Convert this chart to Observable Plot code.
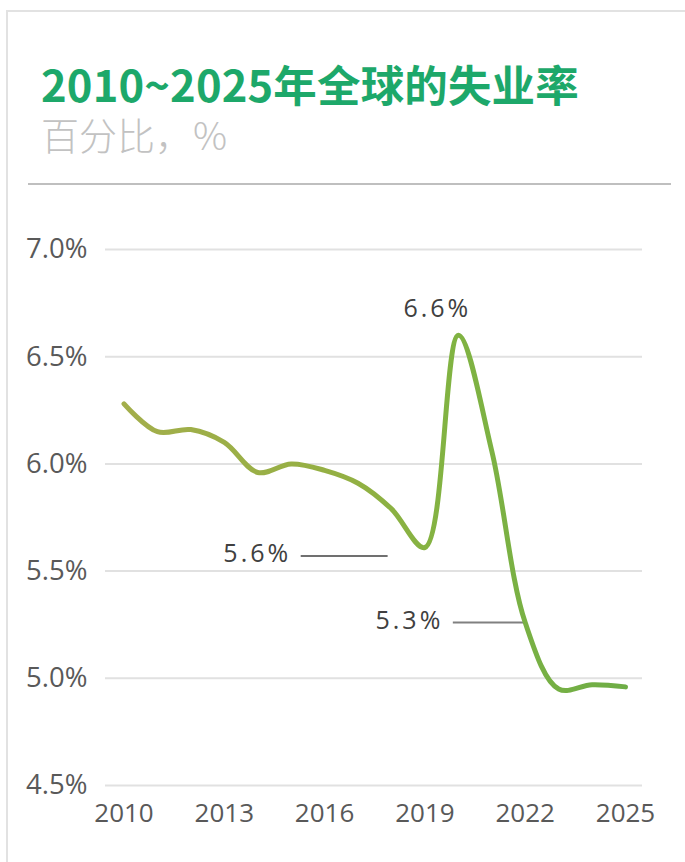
<!DOCTYPE html>
<html>
<head>
<meta charset="utf-8">
<script src="https://cdn.jsdelivr.net/npm/d3@7"></script>
<script src="https://cdn.jsdelivr.net/npm/@observablehq/plot@0.6"></script>
<style>
  html, body { margin: 0; padding: 0; width: 685px; height: 862px; overflow: hidden; background: #fff; }
  #card { position: absolute; left: 6px; top: 10px; width: 720px; height: 900px; border: 2px solid #e2e2e2; box-sizing: border-box; }
  #title { position: absolute; left: 41px; top: 62px; font-family: "Noto Sans CJK SC", sans-serif; font-weight: 700; font-size: 43.5px; line-height: 44px; letter-spacing: 0.15px; color: #1da86a; white-space: nowrap; }
  #subtitle { position: absolute; left: 41px; top: 114px; font-family: "Noto Sans CJK SC", sans-serif; font-weight: 300; font-size: 38px; line-height: 40px; color: #c2c2c2; white-space: nowrap; }
  #sep { position: absolute; left: 28px; top: 183px; width: 643px; height: 2px; background: #bfbfbf; }
  #chart { position: absolute; left: 0; top: 200px; }
  g[aria-description="annot"] text { letter-spacing: 3px; }
</style>
</head>
<body>
<div id="card"></div>
<div id="title">2010~2025年全球的失业率</div>
<div id="subtitle">百分比，%</div>
<div id="sep"></div>
<div id="chart"></div>
<script>
const years = [2010, 2011, 2012, 2013, 2014, 2015, 2016, 2017, 2018, 2019, 2020, 2021, 2022, 2023, 2024, 2025];
const rates = [6.28, 6.15, 6.16, 6.10, 5.96, 6.00, 5.97, 5.91, 5.79, 5.61, 6.60, 6.06, 5.26, 4.95, 4.97, 4.96];
const yTicks = [4.5, 5.0, 5.5, 6.0, 6.5, 7.0];
const xTicks = [2010, 2013, 2016, 2019, 2022, 2025];

const annotYears = [2020, 2019, 2022];
const annotTexts = ["6.6%", "5.6%", "5.3%"];
const leaderFrom = [2015.3, 2019.85];
const leaderTo = [2017.9, 2022];
const leaderY = [5.57, 5.26];
const leaderColors = ["#404040", "#808080"];
const leaderWidths = [1.5, 2];

const series = years.map((year, i) => ({year, rate: rates[i]}));
const annots = annotYears.map((year, i) => ({year, text: annotTexts[i], rate: rates[years.indexOf(year)]}));
const leaders = leaderFrom.map((x1, i) => ({x1, x2: leaderTo[i], y: leaderY[i], stroke: leaderColors[i], sw: leaderWidths[i]}));

const gradient = () => {
  const defs = d3.create("svg:defs");
  const lg = defs.append("linearGradient").attr("id", "lineGrad").attr("x1", "0").attr("x2", "1").attr("y1", "0").attr("y2", "0");
  [["0%", "#a3ae4b"], ["45%", "#93b043"], ["65%", "#81b342"], ["100%", "#6ead46"]].forEach(([o, c]) =>
    lg.append("stop").attr("offset", o).attr("stop-color", c));
  return defs.node();
};

const plot = Plot.plot({
  width: 685,
  height: 662,
  marginLeft: 105,
  marginRight: 43,
  marginTop: 49,
  marginBottom: 77,
  style: {fontFamily: "'Open Sans', 'Noto Sans', sans-serif", background: "transparent"},
  x: {domain: [2010, 2025], insetLeft: 18.5, insetRight: 17, label: null},
  y: {domain: [4.5, 7.0], label: null},
  marks: [
    gradient,
    Plot.ruleY(yTicks, {stroke: "#e1e1e1", strokeWidth: 2}),
    Plot.axisX({ticks: xTicks, tickFormat: d => String(d), tickSize: 0, tickPadding: 18, fontSize: 26, fill: "#595959", label: null}),
    Plot.axisY({ticks: yTicks, tickFormat: d => d.toFixed(1) + "%", tickSize: 0, tickPadding: 18, fontSize: 27.5, fill: "#595959", label: null}),
    Plot.ruleY(leaders, {x1: "x1", x2: "x2", y: "y", stroke: "stroke", strokeWidth: "sw"}),
    Plot.line(series, {x: "year", y: "rate", curve: "catmull-rom", stroke: "url(#lineGrad)", strokeWidth: 5, strokeLinecap: "round", strokeLinejoin: "round"}),
    Plot.text([annots[0]], {x: "year", y: "rate", text: "text", dx: -21, dy: -26, fontSize: 25, fill: "#404040", ariaDescription: "annot"}),
    Plot.text(annots.slice(1).map((a, i) => ({...a, lx: leaderFrom[i], ly: leaderY[i]})), {x: "lx", y: "ly", text: "text", textAnchor: "end", dx: -10, dy: -2, fontSize: 25, fill: "#404040", ariaDescription: "annot"})
  ]
});
document.getElementById("chart").appendChild(plot);
</script>
</body>
</html>
